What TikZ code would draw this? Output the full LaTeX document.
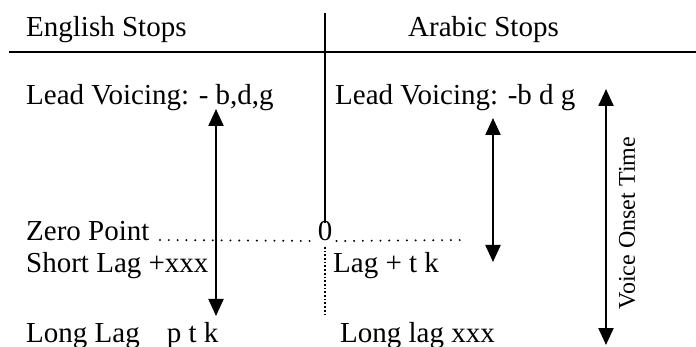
\documentclass[tikz,border=0pt]{standalone}
\usepackage{fontspec}
\setmainfont{Liberation Serif}
\usetikzlibrary{arrows.meta}
\begin{document}
\begin{tikzpicture}[x=1pt,y=-1pt,
  lbl/.style={anchor=base west,inner sep=0pt,font=\fontsize{29}{34}\selectfont},
  rule/.style={line width=1.8pt},
  dbl/.style={line width=2.2pt,{Triangle[width=15pt,length=17pt]}-{Triangle[width=15pt,length=17pt]}},
  dotline/.style={line width=2.2pt,line cap=round,dash pattern=on 0pt off 8.8pt}]
\useasboundingbox (0,0) rectangle (696,347);
% header
\node[lbl] (eng) at (26,37) {English Stops};
\node[lbl] (arb) at (408,37) {Arabic Stops};
\coordinate (hl) at (9,52);
\coordinate (hr) at (696,52);
\draw[rule] (hl) -- (hr);
% rows
\node[lbl] (leadE) at (26,105) {Lead Voicing: - b,d,g};
\node[lbl] (leadA) at (335,105) {Lead Voicing: -b d g};
\node[lbl] (zero) at (26,241) {Zero Point};
\node[anchor=base,inner sep=0pt,font=\fontsize{29}{34}\selectfont] (z0) at (325,241) {0};
\node[lbl] (shortE) at (26,273) {Short Lag +xxx};
\node[lbl] (lagA) at (333,273) {Lag + t k};
\node[lbl] (longE) at (26,342) {Long Lag\hspace{27pt}p t k};
\node[lbl] (longA) at (340,342) {Long lag xxx};
% divider
\coordinate (vtop) at (325,13);
\draw[rule] (vtop) -- ([yshift=-1pt]z0.north);
\coordinate (dvt) at (325,247);
\coordinate (dvb) at (325,315);
\draw[line width=1.7pt,dotted] (dvt) -- (dvb);
% zero point leaders
\coordinate (d1) at (160,240);
\coordinate (d2) at (463,240);
\draw[dotline] (d1) -- ([xshift=-2pt]z0.base west);
\draw[dotline] ([xshift=4pt]z0.base east) -- (d2);
% arrows
\coordinate (a1t) at (216,109);
\coordinate (a1b) at (216,316);
\draw[dbl] (a1t) -- (a1b);
\coordinate (a2t) at (493,118);
\coordinate (a2b) at (493,262);
\draw[dbl] (a2t) -- (a2b);
\coordinate (a3t) at (606,89);
\coordinate (a3b) at (606,345);
\draw[dbl] (a3t) -- (a3b);
\node[rotate=90,inner sep=0pt,font=\fontsize{24}{28}\selectfont] (vot) at (627,223) {Voice Onset Time};
\end{tikzpicture}
\end{document}
